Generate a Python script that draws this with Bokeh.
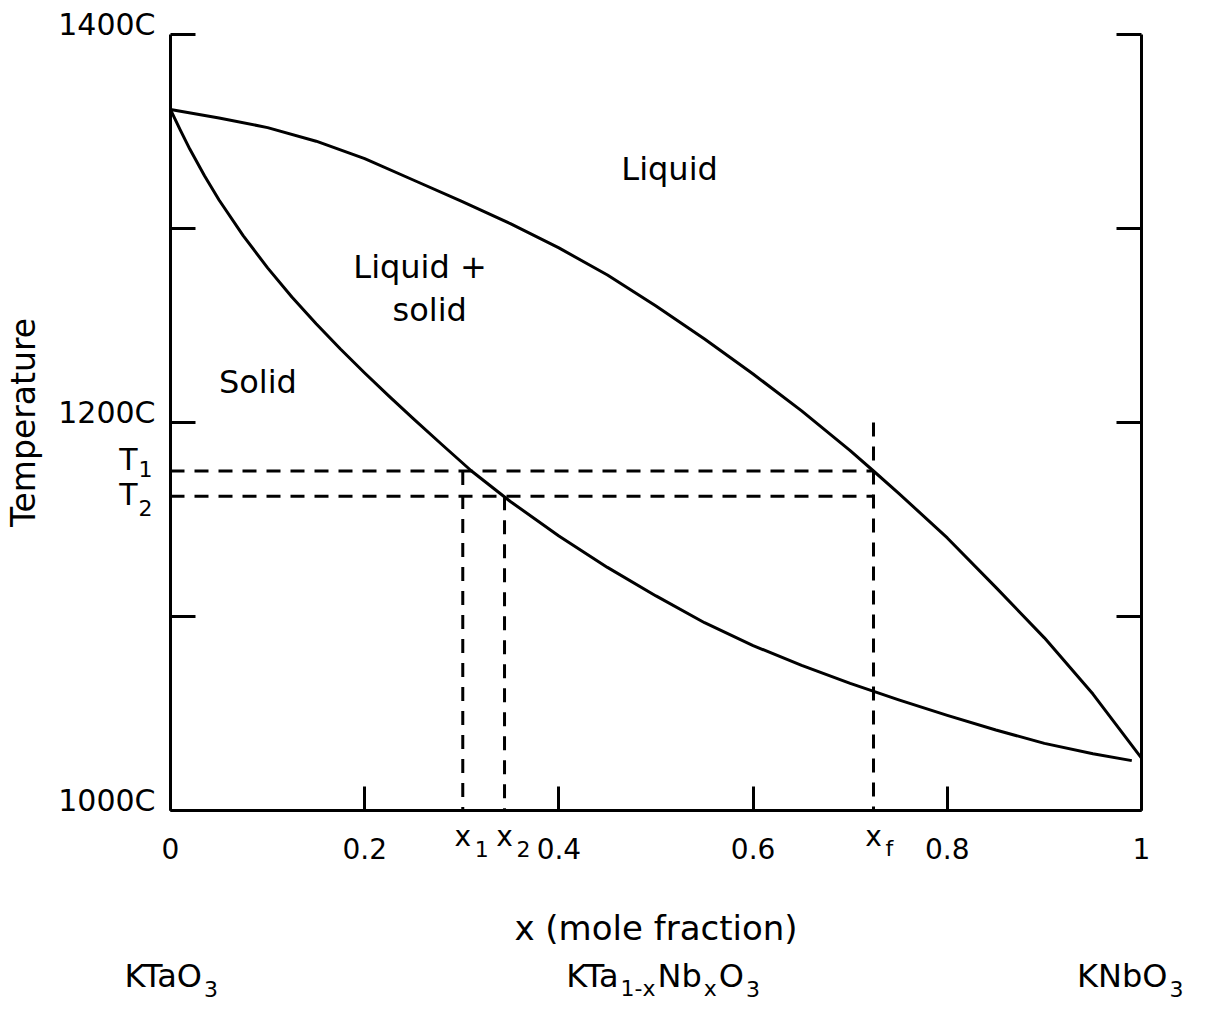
from bokeh.plotting import figure
from bokeh.models import LinearAxis, FixedTicker, NumeralTickFormatter, Label, Range1d
from bokeh.embed import file_html
from bokeh.resources import INLINE

# Phase boundaries of the KTaO3 - KNbO3 system (x = mole fraction KNbO3, T in deg C)
liquidus_x = [0, 0.05, 0.10, 0.15, 0.20, 0.25, 0.30, 0.35, 0.40, 0.45, 0.50, 0.55,
              0.60, 0.65, 0.70, 0.724, 0.75, 0.80, 0.85, 0.90, 0.95, 1.0]
liquidus_T = [1361.3, 1357, 1352, 1345, 1336, 1325, 1314, 1302.5, 1290, 1276, 1260, 1243,
              1225, 1206, 1185.5, 1175, 1163.5, 1140.5, 1115, 1089, 1060, 1027]

solidus_x = [0, 0.01, 0.02, 0.035, 0.05, 0.075, 0.10, 0.125, 0.15, 0.175, 0.20, 0.225,
             0.25, 0.28, 0.31, 0.35, 0.40, 0.45, 0.50, 0.55, 0.60, 0.65, 0.70, 0.75,
             0.80, 0.85, 0.90, 0.95, 0.99]
solidus_T = [1361.3, 1350.8, 1340.8, 1327.2, 1314.7, 1296.2, 1279.7, 1264.7, 1250.9, 1237.9,
             1225.5, 1213.6, 1202.0, 1188.4, 1175.0, 1159.3, 1141.5, 1125.3, 1110.6, 1096.8,
             1085.0, 1074.8, 1065.5, 1057.0, 1049.0, 1041.5, 1034.6, 1029.3, 1025.7]

# Growth construction: melt composition xf, crystal compositions x1, x2 at T1, T2
T1, T2 = 1175, 1162
x1, x2, xf = 0.301, 0.344, 0.724
T_xf_top = 1200

x_ticks = [0, 0.2, 0.4, 0.6, 0.8, 1]
T_ticks = [1000, 1100, 1200, 1300, 1400]
T_tick_labels = {1000: "1000C", 1200: "1200C", 1400: "1400C"}

FONT = "DejaVu Sans"
INK = "black"

# canvas and position of the axis box inside it (pixels)
W, H = 1207, 1026
BOX_L, BOX_R, BOX_T, BOX_B = 170, 1141, 34, 810
PX_X = (BOX_R - BOX_L) / 1.0          # pixels per unit of x
PX_T = (BOX_B - BOX_T) / 400.0        # pixels per degree

p = figure(width=W, height=H,
           x_range=Range1d(-BOX_L / PX_X, (W - BOX_L) / PX_X),
           y_range=Range1d(1000 - (H - BOX_B) / PX_T, 1400 + BOX_T / PX_T),
           output_backend="svg", toolbar_location=None,
           x_axis_location=None, y_axis_location=None, min_border=0)
p.outline_line_color = None
p.grid.visible = False
p.background_fill_color = "white"
p.border_fill_color = "white"


def frame_axis(ax, tick_len):
    """Axis rule with inward tick marks and no numeric labels."""
    ax.axis_line_width = 3
    ax.axis_line_color = INK
    ax.minor_tick_line_width = 3
    ax.minor_tick_line_color = INK
    ax.minor_tick_in = tick_len
    ax.minor_tick_out = 0
    ax.major_tick_line_color = None


# temperature axes: ticks only (their labels are placed on the tick lines below)
left = LinearAxis(ticker=FixedTicker(ticks=[], minor_ticks=T_ticks), fixed_location=0,
                  bounds=(1000, 1400), axis_label="Temperature")
frame_axis(left, 25)
left.axis_label_text_font = FONT
left.axis_label_text_font_size = "33px"
left.axis_label_text_font_style = "normal"
left.axis_label_text_color = INK
left.axis_label_standoff = 128
p.add_layout(left, "left")

right = LinearAxis(ticker=FixedTicker(ticks=[], minor_ticks=T_ticks), fixed_location=1,
                   bounds=(1000, 1400))
frame_axis(right, 25)
p.add_layout(right, "right")

bottom = LinearAxis(ticker=FixedTicker(ticks=x_ticks), formatter=NumeralTickFormatter(format="0.[0]"),
                    fixed_location=1000, bounds=(0, 1), axis_label="x (mole fraction)")
bottom.axis_line_width = 3
bottom.axis_line_color = INK
bottom.major_tick_line_width = 3
bottom.major_tick_line_color = INK
bottom.major_tick_in = 24
bottom.major_tick_out = 0
bottom.minor_tick_line_color = None
bottom.major_label_text_font = FONT
bottom.major_label_text_font_size = "28px"
bottom.major_label_text_color = INK
bottom.major_label_standoff = 27
bottom.axis_label_text_font = FONT
bottom.axis_label_text_font_size = "34px"
bottom.axis_label_text_font_style = "normal"
bottom.axis_label_text_color = INK
bottom.axis_label_standoff = 46
p.add_layout(bottom, "below")


def label(x, y, text, size, align="left", x_offset=0, dy=0):
    """Text whose baseline sits at data (x, y), moved dy pixels down."""
    lift = 0.35 * size  # baseline correction for the alphabetic anchor
    p.add_layout(Label(x=x, y=y + (lift - dy) / PX_T, text=text, x_offset=x_offset,
                       text_align=align, text_baseline="alphabetic", text_font=FONT,
                       text_font_size=f"{size}px", text_color=INK))


# temperature tick labels sit on their tick
for t, s in T_tick_labels.items():
    label(0, t, s, 30, align="right", x_offset=-15)

# liquidus and solidus
p.line(liquidus_x, liquidus_T, line_width=3, line_color=INK, line_join="round")
p.line(solidus_x, solidus_T, line_width=3, line_color=INK, line_join="round")

# tie lines and compositions
dash_kw = dict(line_width=3, line_color=INK, line_dash="14 10")
p.line([0, xf], [T1, T1], **dash_kw)
p.line([0, xf], [T2, T2], **dash_kw)
p.line([x1, x1], [T1, 1000], **dash_kw)
p.line([x2, x2], [T2, 1000], **dash_kw)
p.line([xf, xf], [T_xf_top, 1000], **dash_kw)

# phase fields
label(0.514, 1324.7, "Liquid", 32, align="center")
label(0.257, 1274.2, "Liquid +", 32, align="center")
label(0.267, 1252.1, "solid", 32, align="center")
label(0.090, 1214.9, "Solid", 32, align="center")

# T1 / T2 marks beside the temperature axis
label(0, T1, "T", 30, align="right", x_offset=-33, dy=-1)
label(0, T1, "1", 22, align="left", x_offset=-32, dy=6)
label(0, T2, "T", 30, align="right", x_offset=-33, dy=9)
label(0, T2, "2", 22, align="left", x_offset=-32, dy=19)

# x1, x2, xf marks under the composition axis
for xv, sub in [(x1, "1"), (x2, "2"), (xf, "f")]:
    label(xv, 1000, "x", 28, align="center", dy=36)
    label(xv, 1000, sub, 22, align="left", x_offset=12, dy=46)

# chemical formulas: the leading piece ends at x, the rest follows with subscripts
EM = {"N": 0.748, "b": 0.635, "O": 0.787, "1": 0.636, "3": 0.636, "-": 0.361, "x": 0.592}


def formula(x, parts, big=32, small=22, gap=2):
    head = parts[0][0]
    label(x, 1000, head, big, align="right", x_offset=-1, dy=177)
    off = 1.0
    for text, is_sub in parts[1:]:
        size = small if is_sub else big
        label(x, 1000, text, size, align="left", x_offset=off, dy=186 if is_sub else 177)
        off += sum(EM[c] for c in text) * size + gap


formula(0.0335, [("KTaO", False), ("3", True)])
formula(0.4624, [("KTa", False), ("1-x", True), ("Nb", False), ("x", True), ("O", False), ("3", True)])
formula(1.0277, [("KNbO", False), ("3", True)])

open("out.html", "w").write(file_html(p, INLINE))
